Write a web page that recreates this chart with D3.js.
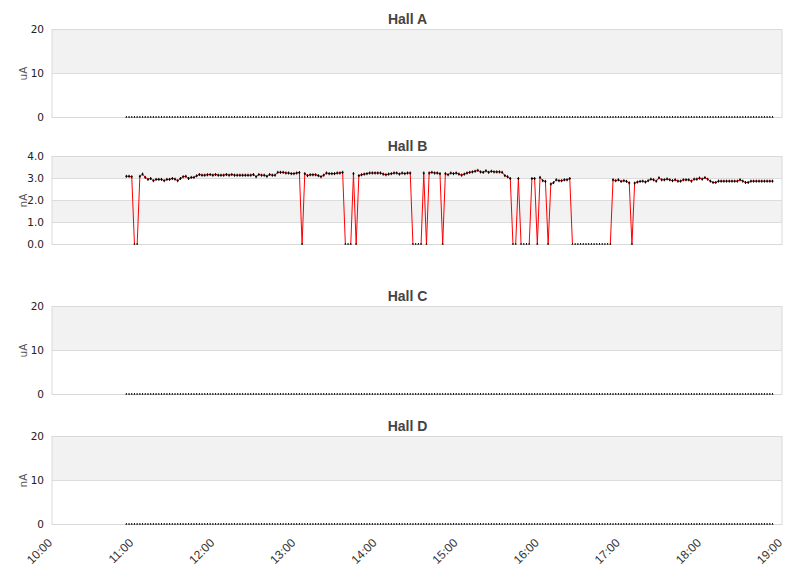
<!DOCTYPE html>
<html lang="en">
<head>
<meta charset="utf-8">
<title>Hall currents</title>
<script src="https://cdn.jsdelivr.net/npm/d3@7"></script>
<style>
  body { margin: 0; background: #fff; }
  svg { display: block; }
</style>
</head>
<body>
<script>
// samples every 2 minutes, first one at 10:55
var startTime = "10:55";
var stepMinutes = 2;

var hallNames = ["Hall A", "Hall B", "Hall C", "Hall D"];
var units = ["uA", "nA", "uA", "nA"];
var yMax = [20, 4, 20, 20];
var yTicks = [[0, 10, 20], [0, 1, 2, 3, 4], [0, 10, 20], [0, 10, 20]];
var xTickLabels = ["10:00", "11:00", "12:00", "13:00", "14:00", "15:00", "16:00", "17:00", "18:00", "19:00"];

var hallA = [
  0,0,0,0,0,0,0,0,0,0,0,0,0,0,0,0,0,0,0,0,0,0,0,0,0,0,0,0,0,0,0,0,0,0,0,0,0,0,0,0,
  0,0,0,0,0,0,0,0,0,0,0,0,0,0,0,0,0,0,0,0,0,0,0,0,0,0,0,0,0,0,0,0,0,0,0,0,0,0,0,0,
  0,0,0,0,0,0,0,0,0,0,0,0,0,0,0,0,0,0,0,0,0,0,0,0,0,0,0,0,0,0,0,0,0,0,0,0,0,0,0,0,
  0,0,0,0,0,0,0,0,0,0,0,0,0,0,0,0,0,0,0,0,0,0,0,0,0,0,0,0,0,0,0,0,0,0,0,0,0,0,0,0,
  0,0,0,0,0,0,0,0,0,0,0,0,0,0,0,0,0,0,0,0,0,0,0,0,0,0,0,0,0,0,0,0,0,0,0,0,0,0,0,0,
  0,0,0,0,0,0,0,0,0,0,0,0,0,0,0,0,0,0,0,0,0,0,0,0,0,0,0,0,0,0,0,0,0,0,0,0,0,0,0,0
];

var hallB = [
  3.10, 3.10, 3.08, 0, 0, 3.10, 3.20, 3.05, 2.96, 3.00,
  2.90, 2.96, 2.96, 2.96, 2.90, 2.96, 2.96, 3.00, 2.97, 2.90,
  3.00, 3.08, 3.10, 3.00, 3.05, 3.05, 3.12, 3.18, 3.15, 3.15,
  3.17, 3.18, 3.15, 3.18, 3.15, 3.15, 3.15, 3.18, 3.15, 3.18,
  3.15, 3.15, 3.15, 3.15, 3.15, 3.15, 3.15, 3.18, 3.08, 3.18,
  3.15, 3.15, 3.10, 3.18, 3.15, 3.15, 3.28, 3.28, 3.28, 3.25,
  3.25, 3.22, 3.22, 3.25, 3.27, 0, 3.22, 3.13, 3.17, 3.17,
  3.17, 3.13, 3.08, 3.15, 3.25, 3.22, 3.22, 3.22, 3.25, 3.25,
  3.28, 0, 0, 0, 3.22, 0, 3.13, 3.17, 3.20, 3.22,
  3.25, 3.25, 3.25, 3.25, 3.25, 3.20, 3.17, 3.20, 3.22, 3.25,
  3.25, 3.20, 3.25, 3.22, 3.25, 3.25, 0, 0, 0, 0,
  3.25, 0, 3.25, 3.28, 3.25, 3.25, 3.22, 0, 3.22, 3.17,
  3.25, 3.22, 3.25, 3.20, 3.15, 3.20, 3.25, 3.28, 3.30, 3.33,
  3.37, 3.30, 3.28, 3.35, 3.28, 3.33, 3.30, 3.30, 3.30, 3.28,
  3.13, 3.08, 3.00, 0, 0, 3.00, 0, 0, 0, 0,
  3.00, 3.00, 0, 3.05, 2.90, 2.87, 0, 2.75, 2.81, 2.94,
  2.90, 2.90, 2.94, 2.94, 3.00, 0, 0, 0, 0, 0,
  0, 0, 0, 0, 0, 0, 0, 0, 0, 0,
  2.94, 2.90, 2.94, 2.87, 2.90, 2.87, 2.80, 0, 2.79, 2.84,
  2.87, 2.88, 2.84, 2.90, 2.97, 2.94, 2.88, 3.03, 2.94, 2.94,
  2.98, 2.94, 2.90, 2.94, 2.88, 2.88, 2.94, 2.94, 2.94, 2.88,
  2.97, 2.97, 3.02, 2.97, 3.04, 2.97, 2.88, 2.82, 2.82, 2.88,
  2.88, 2.88, 2.88, 2.88, 2.88, 2.88, 2.88, 2.94, 2.88, 2.82,
  2.82, 2.88, 2.88, 2.88, 2.88, 2.88, 2.88, 2.88, 2.88, 2.88
];

var hallC = hallA.slice();
var hallD = hallA.slice();
var series = [hallA, hallB, hallC, hallD];

var w = 811, h = 578;
var left = 52, right = 782;
var panelTops = [29.5, 156.5, 306.5, 436.5];
var panelH = 88;

var parseTime = d3.timeParse("%H:%M");
var t0 = parseTime(startTime);
var times = hallB.map(function(d, i) { return d3.timeMinute.offset(t0, i * stepMinutes); });

var x = d3.scaleTime()
  .domain([parseTime(xTickLabels[0]), parseTime(xTickLabels[xTickLabels.length - 1])])
  .range([left, right]);

var svg = d3.select("body").append("svg")
  .attr("width", w)
  .attr("height", h);

var defs = svg.append("defs");

series.forEach(function(vals, k) {
  var top = panelTops[k];
  var y = d3.scaleLinear().domain([0, yMax[k]]).range([top + panelH, top]);
  var ticks = yTicks[k];
  var fmt = yMax[k] < 10 ? d3.format(".1f") : d3.format("d");
  var g = svg.append("g");

  // markers are cut off at the bottom of the plot area
  defs.append("clipPath")
    .attr("id", "clip" + k)
    .append("rect")
    .attr("x", left - 5)
    .attr("y", top - 5)
    .attr("width", right - left + 10)
    .attr("height", panelH + 5);

  // alternate bands, shaded from the top
  for (var i = 0; i < ticks.length - 1; i++) {
    if ((ticks.length - 2 - i) % 2 === 0) {
      g.append("rect")
        .attr("x", left)
        .attr("y", y(ticks[i + 1]))
        .attr("width", right - left)
        .attr("height", y(ticks[i]) - y(ticks[i + 1]))
        .attr("fill", "#f2f2f2");
    }
  }

  g.selectAll("line.grid")
    .data(ticks.slice(1, -1))
    .enter().append("line")
    .attr("class", "grid")
    .attr("x1", left).attr("x2", right)
    .attr("y1", function(d) { return y(d); })
    .attr("y2", function(d) { return y(d); })
    .attr("stroke", "#dcdcdc");

  var line = d3.line()
    .x(function(d, i) { return x(times[i]); })
    .y(function(d) { return y(d); });

  g.append("path")
    .datum(vals)
    .attr("d", line)
    .attr("fill", "none")
    .attr("stroke", "#ff0000")
    .attr("stroke-width", 1);

  g.append("rect")
    .attr("x", left)
    .attr("y", top)
    .attr("width", right - left)
    .attr("height", panelH)
    .attr("fill", "none")
    .attr("stroke", "#d9d9d9");

  g.append("g")
    .attr("clip-path", "url(#clip" + k + ")")
    .selectAll("path.pt")
    .data(vals)
    .enter().append("path")
    .attr("class", "pt")
    .attr("transform", function(d, i) { return "translate(" + x(times[i]) + "," + y(d) + ")"; })
    .attr("d", "M-1,0H1M0,-1.5V1.5")
    .attr("stroke", "#000")
    .attr("stroke-width", 1);

  g.selectAll("text.ytick")
    .data(ticks)
    .enter().append("text")
    .attr("class", "ytick")
    .attr("x", left - 8)
    .attr("y", function(d) { return y(d); })
    .attr("dy", "0.35em")
    .attr("text-anchor", "end")
    .attr("font-family", "DejaVu Sans, sans-serif")
    .attr("font-size", "10.5px")
    .attr("fill", "#222")
    .text(fmt);

  g.append("text")
    .attr("transform", "translate(27," + (top + panelH / 2) + ") rotate(-90)")
    .attr("text-anchor", "middle")
    .attr("font-family", "DejaVu Sans, sans-serif")
    .attr("font-size", "10.5px")
    .attr("fill", "#555")
    .text(units[k]);

  g.append("text")
    .attr("x", w / 2 + 2)
    .attr("y", top - 6)
    .attr("text-anchor", "middle")
    .attr("font-family", "Liberation Sans, Arial, sans-serif")
    .attr("font-weight", "bold")
    .attr("font-size", "14px")
    .attr("fill", "#444")
    .text(hallNames[k]);
});

// time labels under the last panel
var bottom = panelTops[3] + panelH;
svg.selectAll("text.xtick")
  .data(xTickLabels)
  .enter().append("text")
  .attr("class", "xtick")
  .attr("transform", function(d) { return "translate(" + (x(parseTime(d)) + 1) + "," + (bottom + 19) + ") rotate(-45)"; })
  .attr("text-anchor", "end")
  .attr("font-family", "Liberation Sans, Arial, sans-serif")
  .attr("font-size", "12px")
  .attr("fill", "#333")
  .text(function(d) { return d; });
</script>
</body>
</html>
